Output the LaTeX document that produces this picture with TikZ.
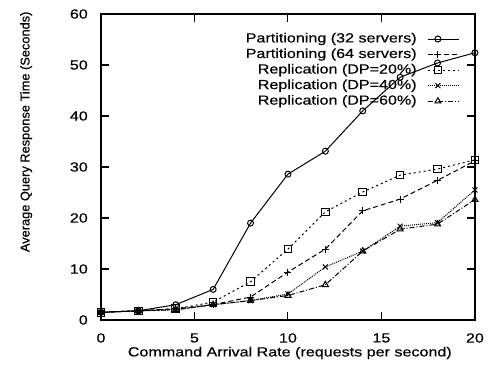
\documentclass[tikz,border=0pt]{standalone}
\usepackage{fontspec}
\setmainfont{Liberation Sans}[FakeBold=0.4]
\newfontfamily\widefont[FakeStretch=1.22, FakeBold=0.4]{Liberation Sans}
\usetikzlibrary{plotmarks}

\begin{document}
\begin{tikzpicture}[x=18.7pt, y=5.1pt,
  every node/.style={font=\widefont\fontsize{13.2}{15}\selectfont, inner sep=1pt},
  curve/.style={line width=1pt, mark size=3.5pt, mark options={solid}},
  part32/.style={curve, mark=o, mark size=3pt},
  part64/.style={curve, mark=+, dash pattern=on 5pt off 3pt},
  repl20/.style={curve, mark=square, mark size=3.8pt, dash pattern=on 2pt off 3pt},
  repl40/.style={curve, mark=x, dash pattern=on 1pt off 1pt},
  repl60/.style={curve, mark=triangle, dash pattern=on 5pt off 2pt on 1pt off 2pt}]

\useasboundingbox ( -5.4, -9.02 ) rectangle ( 20.86, 62.75 );

% Frame
\draw [line width=1.3pt] ( 0, 0 ) rectangle ( 20, 60 );

% Ticks
\foreach \t in {5, 10, 15} {
  \draw [line width=1.1pt] ( \t, 0 ) -- ++( 0, 1.57 );
  \draw [line width=1.1pt] ( \t, 60 ) -- ++( 0, -1.57 );
}
\foreach \t in {10, 20, 30, 40, 50} {
  \draw [line width=1.1pt] ( 0, \t ) -- ++( 0.43, 0 );
  \draw [line width=1.1pt] ( 20, \t ) -- ++( -0.43, 0 );
}

% Tick labels
\foreach \t in {0, 5, 10, 15, 20}
  \node (x\t) at ( \t, -3.53 ) {\t};
\foreach \t in {0, 10, 20, 30, 40, 50, 60}
  \node [anchor=east] (y\t) at ( -0.64, \t ) {\t};

% Axis labels
\node (xlabel) at ( 10.1, -6.47 ) {Command Arrival Rate (requests per second)};
\node [rotate=90, font=\fontsize{12.8}{15}\selectfont] (ylabel) at ( -4.0, 36.9 )
  {Average Query Response Time (Seconds)};

% Curves
\draw [part32] plot coordinates { (0,1.5) (2,1.8) (4,3) (6,6) (8,19) (10,28.6)
  (12,33.1) (14,41) (16,47.6) (18,50.4) (20,52.4) };
\draw [part64] plot coordinates { (0,1.5) (2,1.8) (4,2.2) (6,3) (8,4.5) (10,9.4)
  (12,13.9) (14,21.4) (16,23.7) (18,27.4) (20,31.2) };
\draw [repl20] plot coordinates { (0,1.5) (2,1.8) (4,2.2) (6,3.5) (8,7.5) (10,13.9)
  (12,21.2) (14,25.1) (16,28.4) (18,29.6) (20,31.4) };
\draw [repl40] plot coordinates { (0,1.5) (2,1.8) (4,2) (6,3) (8,3.8) (10,5.1)
  (12,10.4) (14,13.5) (16,18.4) (18,19.1) (20,25.5) };
\draw [repl60] plot coordinates { (0,1.5) (2,1.8) (4,2) (6,3) (8,3.8) (10,4.8)
  (12,6.9) (14,13.5) (16,17.8) (18,18.8) (20,23.6) };

% Key
\node [anchor=east] (key32) at ( 16.95, 55.1 ) {Partitioning (32 servers)};
\node [anchor=east] (key64) at ( 16.95, 52.05 ) {Partitioning (64 servers)};
\node [anchor=east] (key20) at ( 16.95, 49 ) {Replication (DP=20\%)};
\node [anchor=east] (key40) at ( 16.95, 45.95 ) {Replication (DP=40\%)};
\node [anchor=east] (key60) at ( 16.95, 42.9 ) {Replication (DP=60\%)};

\draw [part32] ( 17.49, 55.1 ) -- ( 19.14, 55.1 ) plot coordinates { (18.02,55.1) };
\draw [part64] ( 17.49, 52.05 ) -- ( 19.14, 52.05 ) plot coordinates { (18.02,52.05) };
\draw [repl20] ( 17.49, 49 ) -- ( 19.14, 49 ) plot coordinates { (18.02,49) };
\draw [repl40] ( 17.49, 45.95 ) -- ( 19.14, 45.95 ) plot coordinates { (18.02,45.95) };
\draw [repl60] ( 17.49, 42.9 ) -- ( 19.14, 42.9 ) plot coordinates { (18.02,42.9) };

\end{tikzpicture}
\end{document}
